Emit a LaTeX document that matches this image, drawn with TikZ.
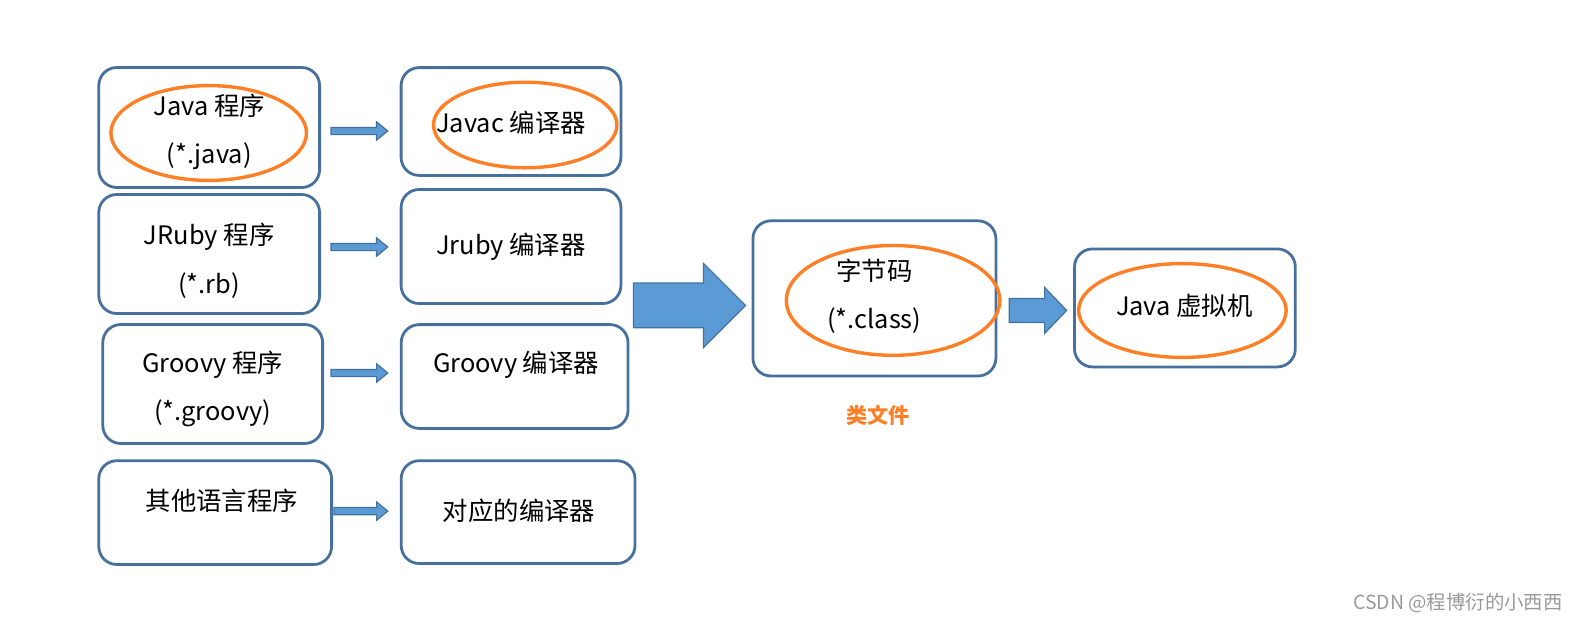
\documentclass[tikz,border=0pt]{standalone}
\usepackage{fontspec}
\setmainfont{Noto Sans CJK SC}
\usetikzlibrary{calc,shapes.geometric}
\definecolor{boxline}{RGB}{71,113,156}
\definecolor{arrowfill}{RGB}{91,155,213}
\definecolor{arrowline}{RGB}{65,113,156}
\definecolor{ringcol}{RGB}{255,127,39}

% #1 from, #2 to, #3 shaft half, #4 head half, #5 head length
\newcommand{\blockarrow}[5]{%
  \path[fill=arrowfill,draw=arrowline,line width=.6pt] let \p1=#1, \p2=#2 in
    (\x1,\y1+#3) -- (\x2-#5,\y1+#3) -- (\x2-#5,\y1+#4) -- (\x2,\y1)
    -- (\x2-#5,\y1-#4) -- (\x2-#5,\y1-#3) -- (\x1,\y1-#3) -- cycle;}

\begin{document}
\begin{tikzpicture}[x=0.5pt,y=-0.5pt,
                box/.style={draw=boxline,line width=1.4pt,rounded corners=9pt,inner sep=0pt},
                txt/.style={align=center,inner sep=0pt,font=\fontsize{12.7pt}{24.2pt}\selectfont},
                ring/.style={ellipse,draw=ringcol,line width=1.7pt,inner sep=0pt}]
                \useasboundingbox (0,0) rectangle (1582,623);
                % source programs
                \node[box,minimum width=110.4pt,minimum height=60pt] (java) at (209.2,127.5) {};
                \node[box,minimum width=110.4pt,minimum height=59.5pt] (jruby) at (209.2,254) {};
                \node[box,minimum width=109.9pt,minimum height=59.5pt] (groovy) at (212.7,384) {};
                \node[box,minimum width=116.4pt,minimum height=51.9pt] (other) at (215.2,512.6) {};
                \node[txt] (javat) at ($(java)+(0,4.5)$) {Java 程序\\(*.java)};
                \node[txt] (jrubyt) at ($(jruby)+(0,6.6)$) {JRuby 程序\\(*.rb)};
                \node[txt] (groovyt) at ($(groovy)+(0,5)$) {Groovy 程序\\(*.groovy)};
                \node[txt] (othert) at ($(other)+(6.6,-11.6)$) {其他语言程序};
                % compilers
                \node[box,minimum width=109.9pt,minimum height=53.9pt] (javac) at (511,121.5) {};
                \node[box,minimum width=109.9pt,minimum height=57pt] (jrubyc) at (511,246.5) {};
                \node[box,minimum width=113.4pt,minimum height=51.9pt] (groovyc) at (514.6,376.5) {};
                \node[box,minimum width=116.9pt,minimum height=51.4pt] (otherc) at (518.1,512.1) {};
                \node[txt] (javact) at ($(javac)+(0,1.5)$) {Javac 编译器};
                \node[txt] (jrubyct) at ($(jrubyc)+(0,0.5)$) {Jruby 编译器};
                \node[txt] (groovyct) at ($(groovyc)+(1.5,-11.5)$) {Groovy 编译器};
                \node[txt] (otherct) at ($(otherc)+(1,-1)$) {对应的编译器};
                % bytecode and vm
                \node[box,minimum width=121.5pt,minimum height=77.6pt] (bytecode) at (874.4,298.4) {};
                \node[box,minimum width=110.4pt,minimum height=59pt] (jvm) at (1184.9,307.9) {};
                \node[txt] (bytecodet) at ($(bytecode)+(0,-2)$) {字节码\\(*.class)};
                \node[txt] (jvmt) at ($(jvm)+(-0.5,-2.5)$) {Java 虚拟机};
                \node[font=\fontsize{10.6pt}{12pt}\selectfont\bfseries,text=ringcol] (classfile) at (878,415.3) {类文件};
                % orange marks
                \node[ring,minimum width=97.8pt,minimum height=47.4pt] (ringjava) at (208.7,133) {};
                \node[ring,minimum width=91.7pt,minimum height=42.8pt] (ringjavac) at (525.2,125) {};
                \node[ring,minimum width=106.8pt,minimum height=54.9pt] (ringbyte) at (893.1,300.4) {};
                \node[ring,minimum width=103.8pt,minimum height=46.9pt] (ringjvm) at (1182.4,310.5) {};
                % arrows
                \blockarrow{($(java.east)+(10,3.5)$)}{($(javac.west)+(-12,0)$)}{1.8pt}{4.6pt}{5.6pt}
                \blockarrow{($(jruby.east)+(10,-7)$)}{($(jrubyc.west)+(-12,0)$)}{1.8pt}{4.6pt}{5.6pt}
                \blockarrow{($(groovy.east)+(7,-11)$)}{($(groovyc.west)+(-12,0)$)}{1.8pt}{4.6pt}{5.6pt}
                \blockarrow{($(other.east)+(1,-1.5)$)}{($(otherc.west)+(-12,0)$)}{1.8pt}{4.6pt}{5.6pt}
                \blockarrow{($(bytecode.west)+(-118,7)$)}{($(bytecode.west)+(-6,0)$)}{11.2pt}{21pt}{21pt}
                \blockarrow{($(bytecode.east)+(12,12)$)}{($(jvm.west)+(-6.5,0)$)}{6pt}{11.5pt}{11pt}
                \node[font=\fontsize{9.7pt}{11pt}\selectfont,text=black!40] (wm) at (1458,603) {CSDN @程博衍的小西西};
\end{tikzpicture}
\end{document}
